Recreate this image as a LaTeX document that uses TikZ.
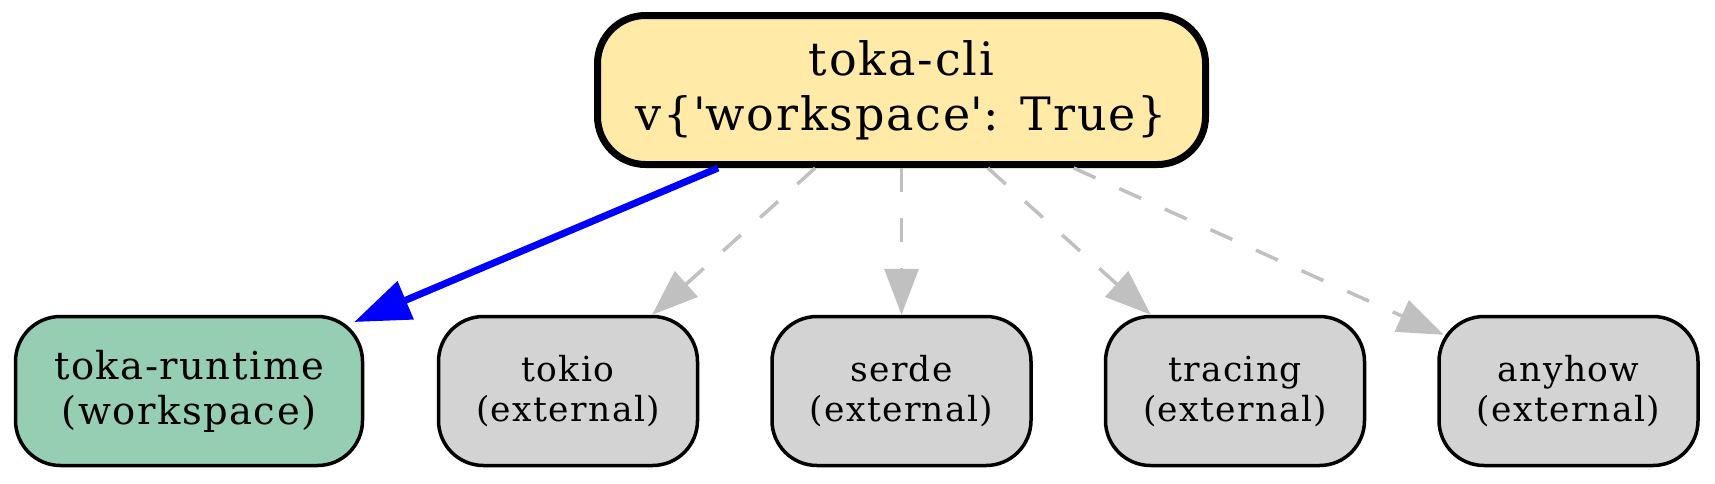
\documentclass[tikz,border=0pt]{standalone}
\usepackage{fontspec}
\setmainfont[LetterSpace=4]{DejaVu Serif}
\usetikzlibrary{arrows.meta}
\definecolor{topfill}{HTML}{FFEAA7}
\definecolor{wsfill}{HTML}{96CEB4}
\definecolor{extfill}{HTML}{D3D3D3}
\definecolor{depgray}{HTML}{C0C0C0}
\tikzset{
  rootbox/.style={draw=black, line width=7pt, fill=topfill, rounded corners=48pt,
    minimum width=608pt, minimum height=149pt, inner sep=0pt, align=center,
    font=\fontsize{46}{55}\selectfont},
  wsbox/.style={draw=black, line width=3.5pt, fill=wsfill, rounded corners=45pt,
    minimum width=347pt, minimum height=149pt, inner sep=0pt, align=center,
    font=\fontsize{38.5}{45}\selectfont},
  extbox/.style={draw=black, line width=3.5pt, fill=extfill, rounded corners=45pt,
    minimum width=259pt, minimum height=149pt, inner sep=0pt, align=center,
    font=\fontsize{34.5}{40}\selectfont},
  wsedge/.style={draw=blue, line width=7pt, -{Triangle[length=56pt, width=40pt]}},
  extedge/.style={draw=depgray, line width=3.5pt, dash pattern=on 24pt off 26pt,
    -{Triangle[length=46pt, width=34pt]}}
}
\begin{document}
\begin{tikzpicture}[x=1pt, y=-1pt]
\useasboundingbox (0,0) rectangle (1715,483);
\node[rootbox] (cli) at (901.5,90) {toka-cli\\v\{\textquotesingle workspace\textquotesingle: True\}};
\node[wsbox] (rt) at (189,391) {toka-runtime\\(workspace)};
\node[extbox] (tokio) at (568,391) {tokio\\(external)};
\node[extbox] (serde) at (901.5,391) {serde\\(external)};
\node[extbox] (tracing) at (1235,391) {tracing\\(external)};
\node[extbox] (anyhow) at (1568.5,391) {anyhow\\(external)};
\draw[wsedge, shorten >=-11pt] (cli) -- (rt);
\draw[extedge] (cli) -- (tokio);
\draw[extedge] (cli) -- (serde);
\draw[extedge] (cli) -- (tracing);
\draw[extedge, shorten >=-7pt] (cli) -- (anyhow);
\end{tikzpicture}
\end{document}
